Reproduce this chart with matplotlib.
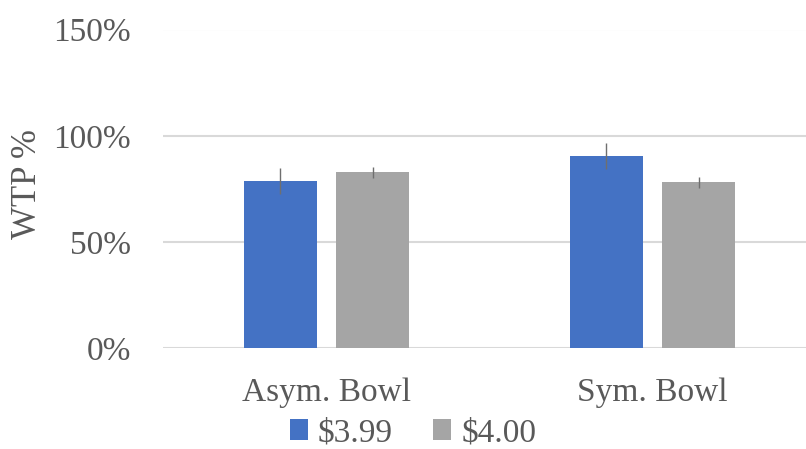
import matplotlib
matplotlib.use("Agg")
import matplotlib.pyplot as plt
import numpy as np

categories = ["Asym. Bowl", "Sym. Bowl"]
series_names = ["$3.99", "$4.00"]
wtp_399 = [78.8, 90.5]
wtp_400 = [82.8, 78.1]
err_399 = [6.0, 6.1]
err_400 = [2.5, 2.5]
yticks = [0, 50, 100, 150]

colors = ["#4472C4", "#A5A5A5"]
text_color = "#595959"

plt.rcParams["font.family"] = ["Liberation Serif", "DejaVu Serif"]

fig = plt.figure(figsize=(8.06, 4.49), dpi=100)
ax = fig.add_axes([163 / 806, 1 - 348.3 / 449, (806 - 163) / 806, (348.3 - 29.5) / 449])

x = np.arange(len(categories))
width = 0.224
offset = 0.142

ax.bar(x - offset, wtp_399, width, color=colors[0], label=series_names[0], zorder=3)
ax.bar(x + offset, wtp_400, width, color=colors[1], label=series_names[1], zorder=3)
ax.errorbar(x - offset, wtp_399, yerr=err_399, fmt="none", ecolor="#6F6F6F",
            elinewidth=1.0, capsize=0, zorder=4)
ax.errorbar(x + offset, wtp_400, yerr=err_400, fmt="none", ecolor="#6F6F6F",
            elinewidth=1.0, capsize=0, zorder=4)

ax.set_xlim(-0.5015, 1.471)
ax.set_ylim(0, 150)
ax.set_yticks(yticks)
ax.set_yticklabels([f"{v}%" for v in yticks])
ax.set_xticks(x)
ax.set_xticklabels(categories)

ax.yaxis.grid(True, color="#D9D9D9", linewidth=1.5, zorder=0)
ax.set_axisbelow(True)
for s in ax.spines.values():
    s.set_visible(False)

ax.tick_params(axis="y", length=0, pad=23, labelsize=24, labelcolor=text_color)
ax.tick_params(axis="x", length=0, pad=21, labelsize=24, labelcolor=text_color)

ax.set_ylabel("WTP %", fontsize=25, color=text_color)
ax.yaxis.label.set_va("center")
ax.yaxis.set_label_coords(-0.211, 0.514)

leg = fig.legend(loc="center", bbox_to_anchor=(413 / 806, 1 - 433 / 449),
                 ncol=2, frameon=False, fontsize=24, handlelength=0.55,
                 handleheight=0.55, handletextpad=0.3, columnspacing=1.2,
                 borderpad=0.1)
for t in leg.get_texts():
    t.set_color(text_color)

fig.savefig("out.png", dpi=100)
